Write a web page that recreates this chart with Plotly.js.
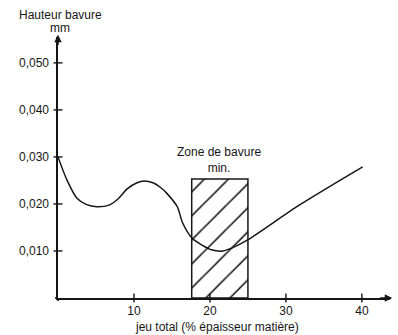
<!DOCTYPE html>
<html><head><meta charset="utf-8">
<script src="https://cdn.plot.ly/plotly-3.0.1.min.js"></script>
<style>body{margin:0;background:#fff}#c{width:398px;height:335px}</style>
</head><body><div id="c"></div>
<script>
// Courbe: hauteur de bavure (mm) en fonction du jeu total (% épaisseur matière)
const jeu = [0, 1.2, 2.5, 3.7, 5.1, 6.8, 8.0, 9.1, 10.4, 11.3, 12.5, 13.5, 14.3, 15.7, 16.4, 17.6, 18.9, 20.3, 21.7, 23.0, 24.9, 31.8, 40.1];
const hauteur = [0.0300, 0.0250, 0.0212, 0.0199, 0.0194, 0.0198, 0.0212, 0.0232, 0.0245, 0.0249, 0.0245, 0.0235, 0.0223, 0.0194, 0.0160, 0.0128, 0.0113, 0.0102, 0.0100, 0.0107, 0.0123, 0.0198, 0.0279];
// Zone de bavure min.
const zoneX = [17.6, 17.6, 25, 25, 17.6];
const zoneY = [0, 0.0253, 0.0253, 0, 0];
const xTicks = [10, 20, 30, 40];
const yTicks = [0.010, 0.020, 0.030, 0.040, 0.050];
const zoneLabel = "Zone de bavure<br>min.";
const xTitle = "jeu total (% épaisseur matière)";
const yTitle1 = "Hauteur bavure";
const yTitle2 = "mm";

const ink = '#161616';
const fnt = {family: 'Liberation Sans, Arial, sans-serif', size: 12, color: ink};
const xr = [0, 43.7], yr = [0, 0.0555];

const traces = [
  {x: zoneX, y: zoneY, type: 'scatter', mode: 'lines', fill: 'toself',
   fillcolor: 'rgba(0,0,0,0)',
   fillpattern: {shape: '/', size: 17, solidity: 0.09, fgcolor: ink, bgcolor: 'white'},
   line: {color: ink, width: 1.5}, hoverinfo: 'skip', showlegend: false},
  {x: jeu, y: hauteur, type: 'scatter', mode: 'lines',
   line: {color: ink, width: 1.5, shape: 'spline', smoothing: 0.8},
   hoverinfo: 'skip', showlegend: false}
];

const axBase = {showgrid: false, zeroline: false, showline: true, linecolor: ink, linewidth: 1.6,
  ticks: '', fixedrange: true, tickfont: fnt};

// cross-shaped tick marks, positioned by the axes from the tick arrays
const shapes = [];
yTicks.forEach(v => shapes.push({type: 'line', xref: 'x domain', yref: 'y', xsizemode: 'pixel',
  xanchor: 0, x0: -4.5, x1: 4.5, y0: v, y1: v, line: {color: ink, width: 1.4}}));
xTicks.forEach(v => shapes.push({type: 'line', xref: 'x', yref: 'y domain', ysizemode: 'pixel',
  yanchor: 0, y0: -4.5, y1: 4.5, x0: v, x1: v, line: {color: ink, width: 1.4}}));
// origin: axes cross slightly
shapes.push({type: 'line', xref: 'x domain', yref: 'y domain', xsizemode: 'pixel', xanchor: 0,
  x0: -3, x1: 0, y0: 0, y1: 0, line: {color: ink, width: 1.6}});
shapes.push({type: 'line', xref: 'x domain', yref: 'y domain', ysizemode: 'pixel', yanchor: 0,
  y0: -3, y1: 0, x0: 0, x1: 0, line: {color: ink, width: 1.6}});

const layout = {
  width: 398, height: 335,
  margin: {l: 58, r: 8, t: 37, b: 37},
  paper_bgcolor: 'white', plot_bgcolor: 'white',
  separators: ', ',
  font: fnt,
  showlegend: false,
  xaxis: Object.assign({}, axBase, {range: xr, tickvals: xTicks, ticktext: xTicks.map(String),
    ticklabelstandoff: 1}),
  yaxis: Object.assign({}, axBase, {range: yr, tickvals: yTicks, tickformat: '.3f',
    ticklabelstandoff: 5}),
  shapes: shapes,
  annotations: [
    {x: xr[1] + 0.3, y: 0, ax: xr[1] - 1.5, ay: 0, xref: 'x', yref: 'y', axref: 'x', ayref: 'y',
     showarrow: true, arrowhead: 2, arrowsize: 1, arrowwidth: 1.5, arrowcolor: ink, text: ''},
    {x: 0, y: yr[1] + 0.0005, ax: 0, ay: yr[1] - 0.002, xref: 'x', yref: 'y', axref: 'x', ayref: 'y',
     showarrow: true, arrowhead: 2, arrowsize: 1, arrowwidth: 1.5, arrowcolor: ink, text: ''},
    {x: 21.25, y: 0.02936, xref: 'x', yref: 'y', text: zoneLabel, showarrow: false,
     font: fnt, xanchor: 'center', yanchor: 'middle', align: 'center'},
    {x: 0.226, y: -0.111, xref: 'paper', yref: 'paper', text: xTitle, showarrow: false,
     font: fnt, xanchor: 'left', yanchor: 'middle'},
    {x: -0.1235, y: 1.084, xref: 'paper', yref: 'paper', text: yTitle1, showarrow: false,
     font: fnt, xanchor: 'left', yanchor: 'middle'},
    {x: -0.0301, y: 1.034, xref: 'paper', yref: 'paper', text: yTitle2, showarrow: false,
     font: fnt, xanchor: 'left', yanchor: 'middle'}
  ]
};

Plotly.newPlot('c', traces, layout, {staticPlot: true, displayModeBar: false});
</script></body></html>
